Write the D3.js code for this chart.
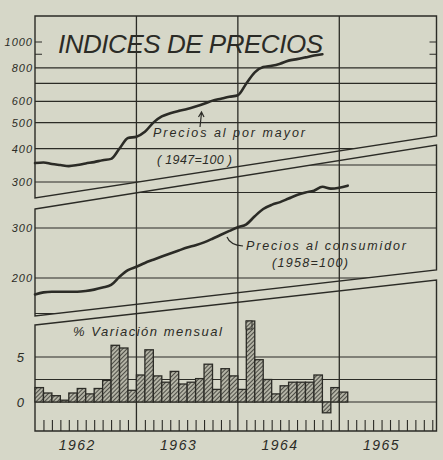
<html>
<head>
<style>
body{margin:0;background:#d6d7c8;}
svg{display:block;}
text{font-family:"Liberation Sans",Arial,sans-serif;font-style:italic;fill:#2b2b26;}
</style>
</head>
<body>
<script src="https://cdn.jsdelivr.net/npm/d3@7"></script>
<script>
var width = 443, height = 460;
// indice de mes: 0 = enero 1962
let years = ["1962","1963","1964","1965"]
let mayor = [353,355,350,347,344,347,352,356,362,366,400,438,443,462,500,527,542,553,562,574,
	588,604,614,624,633,700,770,806,815,830,852,863,876,890,900]
let consumidor = [175,178,179,179,179,179,180,182,185,189,202,213,219,226,232,238,244,250,256,261,
	267,275,284,293,302,309,330,350,362,370,381,392,400,406,419,413,416,423]
let variacion = [1.6,1.0,0.7,0.2,1.0,1.5,0.9,1.5,2.4,6.3,6.0,1.3,
	3.0,5.8,2.9,2.2,3.4,2.0,2.2,2.6,4.2,1.4,3.7,2.9,
	1.4,9.0,4.7,2.5,0.9,1.8,2.2,2.2,2.2,3.0,-1.2,1.6,
	1.1]
let topGrid = [300,400,500,600,700,800]
let topShort = [900,1000]
let topLabels = [300,400,500,600,800,1000]
let midGrid = [150,200,300,400,500,600]
let midLabels = [200,300]
let botGrid = [0,2.5,5]
let botLabels = [0,5]

let ink = "#2b2b26"
let L = 35, R = 436.5

var svg = d3.select("body").append("svg")
	.attr("width", width).attr("height", height)
svg.append("rect").attr("width", width).attr("height", height).attr("fill", "#d6d7c8")

var x = d3.scaleLinear().domain([0, 47.5]).range([L, R])
var yTop = d3.scaleLog().domain([300, 1000]).range([182, 42])
var yMid = d3.scaleLog().domain([200, 300]).range([278, 228])
var yBot = d3.scaleLinear().domain([0, 5]).range([402, 357])

// paneles cortados en diagonal
let panels = {
	top: [[L,16],[R,16],[R,136],[L,198]],
	mid: [[L,209],[R,145],[R,270],[L,316]],
	bot: [[L,325],[R,280],[R,431],[L,431]]
}
let defs = svg.append("defs")
Object.keys(panels).forEach(k => {
	defs.append("clipPath").attr("id", "clip-" + k)
		.append("polygon").attr("points", panels[k].map(p => p.join(",")).join(" "))
})
let pat = defs.append("pattern").attr("id", "hatch")
	.attr("patternUnits", "userSpaceOnUse").attr("width", 3).attr("height", 3)
	.attr("patternTransform", "rotate(45)")
pat.append("rect").attr("width", 3).attr("height", 3).attr("fill", "#b3b3a5")
pat.append("line").attr("x1", 0).attr("y1", 0).attr("x2", 0).attr("y2", 3)
	.attr("stroke", ink).attr("stroke-width", 1.5)

function grid(key, scale, vals) {
	svg.append("g").attr("clip-path", `url(#clip-${key})`)
		.selectAll("line").data(vals).enter().append("line")
		.attr("x1", L).attr("x2", R)
		.attr("y1", d => scale(d)).attr("y2", d => scale(d))
		.attr("stroke", ink).attr("stroke-width", 1.2)
}
grid("top", yTop, topGrid)
grid("mid", yMid, midGrid)
grid("bot", yBot, botGrid)

// marcas cortas 900 y 1000
svg.selectAll(".short").data(topShort).enter().append("path")
	.attr("d", d => `M${L},${yTop(d)}h7M${R},${yTop(d)}h-7`)
	.attr("stroke", ink).attr("stroke-width", 1.2)

// lineas de año
svg.selectAll(".yr").data([12, 24, 36]).enter().append("line")
	.attr("x1", d => x(d)).attr("x2", d => x(d)).attr("y1", 16).attr("y2", 431)
	.attr("stroke", ink).attr("stroke-width", 1.3)

// contornos
Object.keys(panels).forEach(k => {
	svg.append("polygon").attr("points", panels[k].map(p => p.join(",")).join(" "))
		.attr("fill", "none").attr("stroke", ink).attr("stroke-width", 1.4)
})

// barras de variacion mensual
svg.append("g").selectAll("rect").data(variacion).enter().append("rect")
	.attr("x", (d, i) => x(i))
	.attr("width", x(1) - x(0))
	.attr("y", d => yBot(Math.max(0, d)))
	.attr("height", d => Math.abs(yBot(d) - yBot(0)))
	.attr("fill", "url(#hatch)").attr("stroke", ink).attr("stroke-width", 1.3)

// series
let lineTop = d3.line().x((d, i) => x(i)).y(d => yTop(d)).curve(d3.curveMonotoneX)
let lineMid = d3.line().x((d, i) => x(i)).y(d => yMid(d)).curve(d3.curveMonotoneX)
svg.append("path").attr("d", lineTop(mayor)).attr("fill", "none")
	.attr("stroke", ink).attr("stroke-width", 2.6).attr("stroke-linecap", "round")
svg.append("path").attr("d", lineMid(consumidor)).attr("fill", "none")
	.attr("stroke", ink).attr("stroke-width", 2.6).attr("stroke-linecap", "round")

// ejes
function leftAxis(scale, vals, tx, size) {
	let g = svg.append("g").attr("transform", `translate(${tx},0)`)
		.call(d3.axisLeft(scale).tickValues(vals).tickSize(0).tickPadding(0).tickFormat(d3.format("d")))
	g.select(".domain").remove()
	g.selectAll("text").attr("font-family", null).attr("font-size", null)
		.style("font-size", size + "px").style("letter-spacing", "1px").attr("fill", ink)
}
leftAxis(yTop, topLabels, 33, 11)
leftAxis(yMid, midLabels, 33, 11)
leftAxis(yBot, botLabels, 25, 13)

let mt = svg.append("g").attr("transform", "translate(0,420)")
	.call(d3.axisBottom(x).tickValues(d3.range(1, 48).filter(m => m % 12)).tickSize(11).tickFormat(""))
mt.select(".domain").remove()
mt.selectAll("line").attr("stroke", ink).attr("stroke-width", 1.1)

let ya = svg.append("g").attr("transform", "translate(-9,437)")
	.call(d3.axisBottom(x).tickValues([6, 18, 30, 42]).tickSize(0).tickPadding(3).tickFormat((d, i) => years[i]))
ya.select(".domain").remove()
ya.selectAll("text").attr("font-family", null).attr("font-size", null)
	.style("font-size", "14px").style("letter-spacing", "1.5px").attr("fill", ink)

// textos
svg.append("text").attr("x", 58).attr("y", 53).attr("font-size", 26)
	.attr("textLength", 265).attr("lengthAdjust", "spacing").text("INDICES DE PRECIOS")
svg.append("text").attr("x", 153).attr("y", 137).attr("font-size", 12.5)
	.attr("textLength", 152).text("Precios al por mayor")
svg.append("text").attr("x", 157).attr("y", 164).attr("font-size", 12.5)
	.attr("textLength", 75).text("( 1947=100 )")
svg.append("text").attr("x", 246).attr("y", 250).attr("font-size", 12.5)
	.attr("textLength", 160).text("Precios al consumidor")
svg.append("text").attr("x", 272).attr("y", 267).attr("font-size", 12.5)
	.attr("textLength", 76).text("(1958=100)")
svg.append("text").attr("x", 73).attr("y", 336).attr("font-size", 13)
	.attr("textLength", 149).text("% Variación mensual")

// flecha y guia
svg.append("path").attr("d", "M200,127 L201.5,113 M198.5,117 L201.5,112 L204,117")
	.attr("fill", "none").attr("stroke", ink).attr("stroke-width", 1.2)
svg.append("path").attr("d", "M227,237 Q230,245 243,246")
	.attr("fill", "none").attr("stroke", ink).attr("stroke-width", 1.2)
svg.append("rect").attr("x", 246).attr("y", 321).attr("width", 6).attr("height", 8)
	.attr("fill", "url(#hatch)").attr("stroke", ink).attr("stroke-width", 1)
</script>
</body>
</html>
